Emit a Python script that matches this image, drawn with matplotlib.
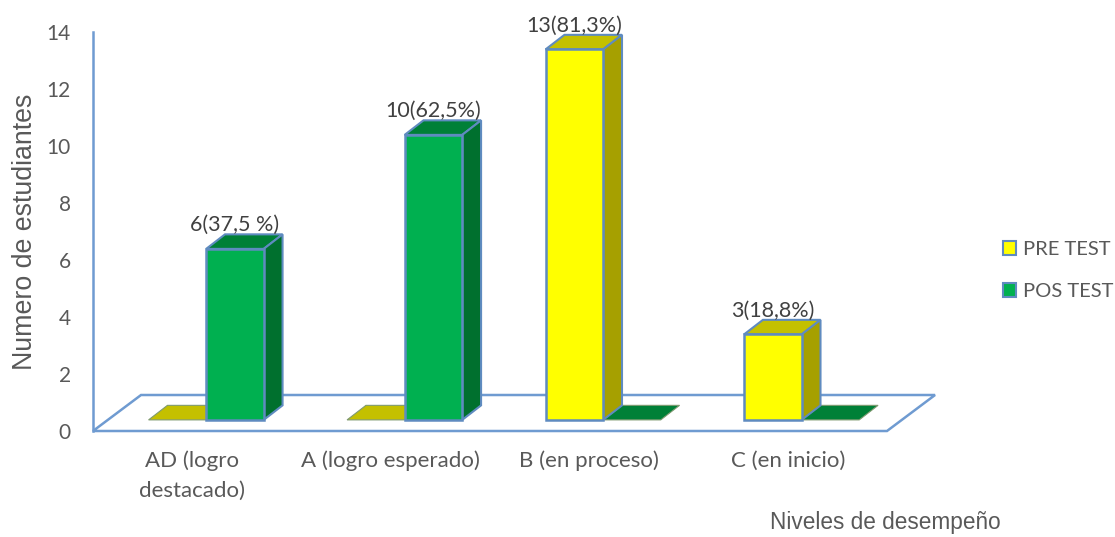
import matplotlib
matplotlib.use('Agg')
import matplotlib.pyplot as plt
from matplotlib.patches import Polygon, Patch

# values
categories = ['AD (logro\ndestacado)', 'A (logro esperado)', 'B (en proceso)', 'C (en inicio)']
pre_test = [0, 0, 13, 3]
pos_test = [6, 10, 0, 0]
pre_labels = [None, None, '13(81,3%)', '3(18,8%)']
pos_labels = ['6(37,5 %)', '10(62,5%)', None, None]
y_ticks = [0, 2, 4, 6, 8, 10, 12, 14]

W, H = 1115, 537
LINE = '#6F9BD1'
EDGE = '#5F8BC0'
TXT = '#404040'
TICK = '#595959'

# fake 3d offsets, in data units
bar_w = 0.29
shift = 0.07
base = 0.39
dx, dy = 0.095, 0.51
floor_dx, floor_dy = 0.242, 1.263

plt.rcParams['font.family'] = ['Lato', 'DejaVu Sans']
fig = plt.figure(figsize=(W / 100, H / 100), dpi=100)
ax = fig.add_axes([93 / W, (H - 431) / H, 794 / W, 399 / H])
ax.set_xlim(-0.5, 3.5)
ax.set_ylim(0, 14)

# floor
ax.add_patch(Polygon([(-0.5, 0), (3.5, 0), (3.5 + floor_dx, floor_dy), (-0.5 + floor_dx, floor_dy)],
                     closed=True, fc='white', ec=LINE, lw=1.8, clip_on=False, zorder=1))


def draw_bar(x0, v, front, top, side):
    x1 = x0 + bar_w
    y1 = base + v
    ax.add_patch(Polygon([(x0, y1), (x1, y1), (x1 + dx, y1 + dy), (x0 + dx, y1 + dy)], closed=True,
                         fc=top, ec=EDGE if v > 0 else '#7F9A70', lw=1.5 if v > 0 else 0.8, clip_on=False, zorder=3))
    if v > 0:
        ax.add_patch(Polygon([(x1, base), (x1 + dx, base + dy), (x1 + dx, y1 + dy), (x1, y1)], closed=True,
                             fc=side, ec=EDGE, lw=1.5, clip_on=False, zorder=3))
        ax.bar(x0, v, width=bar_w, bottom=base, align='edge', color=front, edgecolor=EDGE, lw=1.8,
               clip_on=False, zorder=4)


for i in range(len(categories)):
    # the empty bar is drawn first so the tall one sits over it
    order = [0, 1] if pre_test[i] == 0 else [1, 0]
    for s in order:
        if s == 0:
            draw_bar(i + shift - bar_w, pre_test[i], '#FFFF00', '#C4C000', '#A6A000')
            lab, v, xc = pre_labels[i], pre_test[i], i + shift - bar_w / 2
        else:
            draw_bar(i + shift, pos_test[i], '#00B050', '#008037', '#00702E')
            lab, v, xc = pos_labels[i], pos_test[i], i + shift + bar_w / 2
        if lab:
            ax.text(xc, base + v + dy - 0.02, lab, ha='center', va='bottom', fontsize=15.5, color=TXT, zorder=6)

ax.set_xticks(range(len(categories)))
ax.set_xticklabels(categories, fontsize=16, color=TICK, linespacing=1.6)
ax.set_yticks(y_ticks)
ax.tick_params(axis='y', length=0, pad=16, labelsize=15, labelcolor=TICK)
ax.tick_params(axis='x', length=0, pad=14)

for name in ['top', 'right', 'bottom']:
    ax.spines[name].set_visible(False)
ax.spines['left'].set_color(LINE)
ax.spines['left'].set_linewidth(1.8)

fig.text(25 / W, 1 - 232 / H, 'Numero de estudiantes', rotation=90, ha='center', va='center',
         family='Liberation Sans', fontsize=19.3, color=TICK)
fig.text(885 / W, 1 - 523 / H, 'Niveles de desempeño', ha='center', va='center',
         family='Liberation Sans', fontsize=16.3, color=TICK)

handles = [Patch(fc='#FFFF00', ec=EDGE, lw=1.5), Patch(fc='#00B050', ec=EDGE, lw=1.5)]
fig.legend(handles, ['PRE TEST', 'POS TEST'], loc='center left', bbox_to_anchor=(989 / W, 1 - 270.5 / H),
           frameon=False, fontsize=14.5, labelcolor=TICK, handlelength=0.65, handleheight=0.65,
           handletextpad=0.35, labelspacing=1.25, borderpad=0, borderaxespad=0.7)

plt.savefig('out.png', dpi=100)
